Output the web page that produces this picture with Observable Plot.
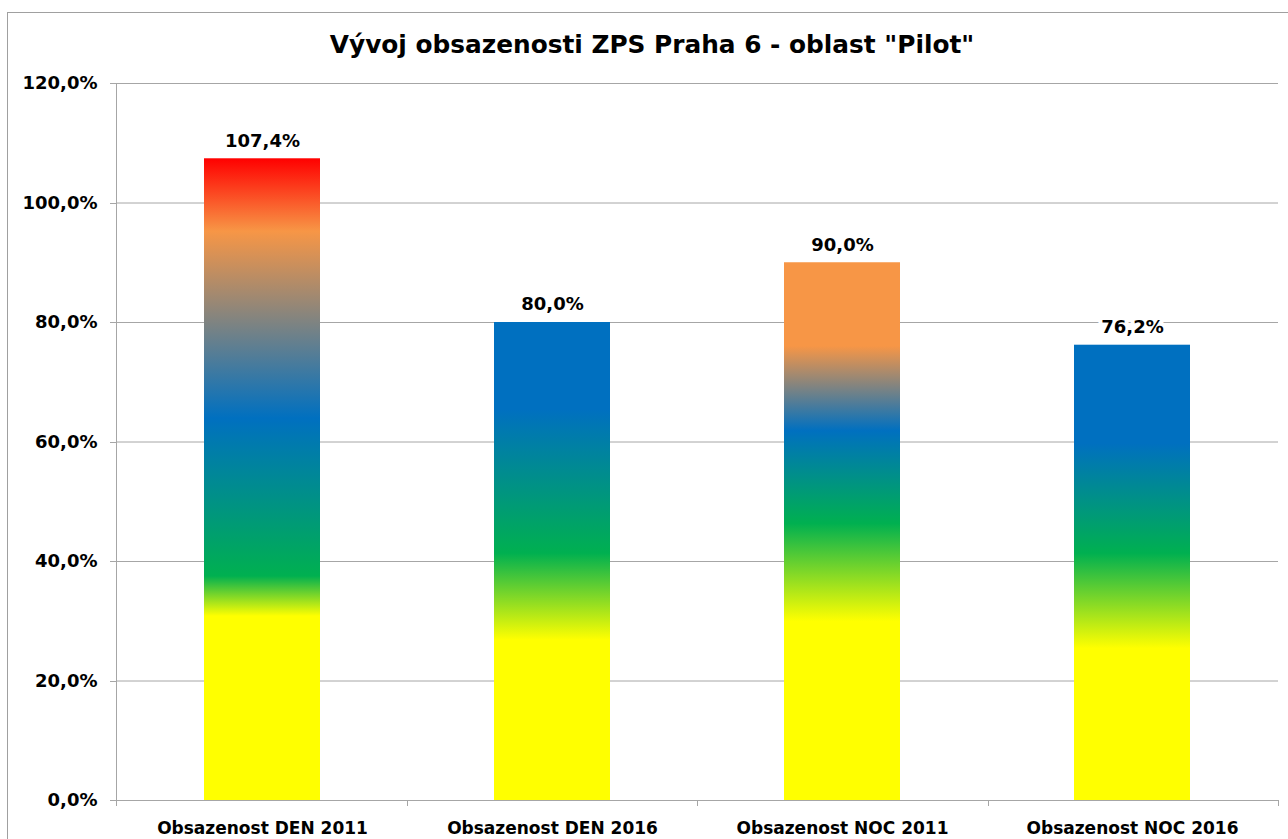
<!DOCTYPE html>
<html><head><meta charset="utf-8">
<script src="https://cdn.jsdelivr.net/npm/d3@7"></script>
<script src="https://cdn.jsdelivr.net/npm/@observablehq/plot@0.6"></script>
<style>
html,body{margin:0;padding:0;background:#fff;overflow:hidden;width:1288px;height:839px}
#frame{position:absolute;left:7px;top:12px;width:1400px;height:1000px;border:1px solid #a0a0a0;box-sizing:border-box}
#title{position:absolute;left:0;width:1304px;top:33px;text-align:center;font:bold 24.8px "DejaVu Sans",Verdana,sans-serif;line-height:24px;color:#000;white-space:nowrap}
#chart{position:absolute;left:0;top:0}
#chart [aria-label^="y-axis"] text{font-family:"DejaVu Sans",Verdana,sans-serif;font-size:18px;font-weight:bold;fill:#000}
#chart [aria-label^="x-axis"] text{font-family:"DejaVu Sans",Verdana,sans-serif;font-size:17px;font-weight:bold;fill:#000}
</style></head>
<body>
<div id="frame"></div>
<div id="title">Vývoj obsazenosti ZPS Praha 6 - oblast "Pilot"</div>
<div id="chart"></div>
<script>
// ---- data ----
const categories = ["Obsazenost DEN 2011", "Obsazenost DEN 2016", "Obsazenost NOC 2011", "Obsazenost NOC 2016"];
const occupancy = [107.4, 80.0, 90.0, 76.2];
const barLabels = ["107,4%", "80,0%", "90,0%", "76,2%"];
const yTicks = [0, 20, 40, 60, 80, 100, 120];
const yTickLabels = ["0,0%", "20,0%", "40,0%", "60,0%", "80,0%", "100,0%", "120,0%"];

// gradient stops per bar: [value in %, colour]
const stopsDen2011 = [[0, "#FFFF00"], [30.8, "#FFFF00"], [37.5, "#00B050"], [63.9, "#0070C0"], [95.2, "#F79646"], [107.4, "#FF0000"]];
const stopsDen2016 = [[0, "#FFFF00"], [26.8, "#FFFF00"], [41.3, "#00B050"], [65.3, "#0070C0"], [80.0, "#0070C0"]];
const stopsNoc2011 = [[0, "#FFFF00"], [29.9, "#FFFF00"], [46.3, "#00B050"], [61.8, "#0070C0"], [76.0, "#F79646"], [90.0, "#F79646"]];
const stopsNoc2016 = [[0, "#FFFF00"], [25.4, "#FFFF00"], [41.3, "#00B050"], [59.7, "#0070C0"], [76.2, "#0070C0"]];
const barStops = [stopsDen2011, stopsDen2016, stopsNoc2011, stopsNoc2016];

const data = categories.map((c, i) => ({category: c, value: occupancy[i], label: barLabels[i], grad: `url(#grad${i})`}));

const axisGray = "#a6a6a6";

function decorations(index, scales, vals, dims) {
  const {y} = scales;
  const {width, marginLeft, marginRight} = dims;
  const g = d3.create("svg:g");
  const defs = g.append("defs");
  barStops.forEach((stops, i) => {
    const top = occupancy[i];
    const lg = defs.append("linearGradient")
      .attr("id", `grad${i}`)
      .attr("gradientUnits", "userSpaceOnUse")
      .attr("x1", 0).attr("x2", 0)
      .attr("y1", y(0)).attr("y2", y(top));
    stops.forEach(([v, c]) => lg.append("stop").attr("offset", v / top).attr("stop-color", c));
  });
  // y axis line and ticks
  g.append("line").attr("x1", marginLeft + 0.5).attr("x2", marginLeft + 0.5)
    .attr("y1", y(0)).attr("y2", y(yTicks[yTicks.length - 1])).attr("stroke", axisGray);
  yTicks.forEach(t => g.append("line").attr("x1", marginLeft - 6).attr("x2", marginLeft)
    .attr("y1", Math.round(y(t)) + 0.5).attr("y2", Math.round(y(t)) + 0.5).attr("stroke", axisGray));
  // x axis category boundary ticks
  const n = categories.length;
  const step = (width - marginLeft - marginRight) / n;
  for (let k = 0; k <= n; k++) {
    const xx = Math.round(marginLeft + k * step) + 0.5;
    g.append("line").attr("x1", xx).attr("x2", xx).attr("y1", y(0)).attr("y2", y(0) + 6).attr("stroke", axisGray);
  }
  return g.node();
}

const chart = Plot.plot({
  width: 1288,
  height: 839,
  marginLeft: 116,
  marginRight: 10,
  marginTop: 83,
  marginBottom: 39,
  style: {background: "transparent", fontFamily: "DejaVu Sans", fontSize: "18px", fontWeight: "bold", color: "#000"},
  x: {domain: categories, paddingInner: 0.6, paddingOuter: 0.3, label: null, tickSize: 0, tickPadding: 21},
  y: {domain: [0, 120], ticks: yTicks, tickFormat: d => yTickLabels[yTicks.indexOf(d)], label: null, tickSize: 0, tickPadding: 19},
  color: {type: "identity"},
  marks: [
    Plot.ruleY(yTicks, {stroke: axisGray}),
    decorations,
    Plot.barY(data, {x: "category", y: "value", fill: "grad"}),
    Plot.text(data, {x: "category", y: "value", text: "label", dy: -18, fill: "#000", stroke: "white", strokeWidth: 8,
      fontFamily: "DejaVu Sans", fontSize: 18, fontWeight: "bold"})
  ]
});
document.getElementById("chart").appendChild(chart);
</script>
</body></html>
